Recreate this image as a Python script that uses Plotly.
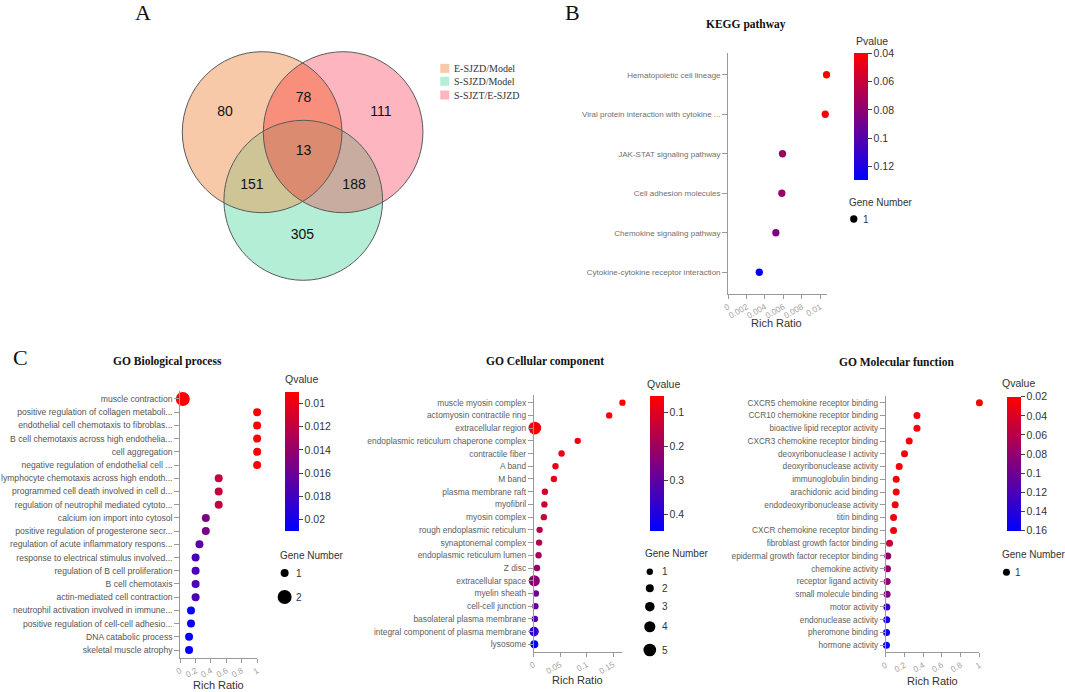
import math
import plotly.graph_objects as go

W, H = 1065, 692
SANS = "Liberation Sans, Arial, sans-serif"
SERIF = "Liberation Serif, Times New Roman, serif"

# ---------------- data ----------------
venn_sets = ["E-SJZD/Model", "S-SJZD/Model", "S-SJZT/E-SJZD"]
venn_region_counts = [80, 78, 111, 13, 151, 188, 305]

kegg_terms = ["Hematopoietic cell lineage", "Viral protein interaction with cytokine ...",
              "JAK-STAT signaling pathway", "Cell adhesion molecules",
              "Chemokine signaling pathway", "Cytokine-cytokine receptor interaction"]
kegg_ratio = [0.01068, 0.01054, 0.0059, 0.00583, 0.00518, 0.00338]
kegg_pvalue = [0.041, 0.043, 0.074, 0.076, 0.085, 0.127]
kegg_genes = [1, 1, 1, 1, 1, 1]

bp_terms = ["muscle contraction", "positive regulation of collagen metaboli...",
            "endothelial cell chemotaxis to fibroblas...", "B cell chemotaxis across high endothelia...",
            "cell aggregation", "negative regulation of endothelial cell ...",
            "lymphocyte chemotaxis across high endoth...", "programmed cell death involved in cell d...",
            "regulation of neutrophil mediated cytoto...", "calcium ion import into cytosol",
            "positive regulation of progesterone secr...", "regulation of acute inflammatory respons...",
            "response to electrical stimulus involved...", "regulation of B cell proliferation",
            "B cell chemotaxis", "actin-mediated cell contraction",
            "neutrophil activation involved in immune...", "positive regulation of cell-cell adhesio...",
            "DNA catabolic process", "skeletal muscle atrophy"]
bp_ratio = [0.034, 1, 1, 1, 1, 1, 0.5, 0.5, 0.5, 0.333, 0.333, 0.25, 0.2, 0.2, 0.2, 0.2,
            0.14, 0.14, 0.115, 0.115]
bp_qvalue = [0.0092, 0.0092, 0.0092, 0.0092, 0.0092, 0.0092, 0.0118, 0.0118, 0.0118, 0.0152,
             0.0152, 0.0168, 0.0175, 0.0175, 0.0175, 0.0175, 0.0205, 0.0205, 0.0207, 0.0207]
bp_genes = [2] + [1] * 19

cc_terms = ["muscle myosin complex", "actomyosin contractile ring", "extracellular region",
            "endoplasmic reticulum chaperone complex", "contractile fiber", "A band", "M band",
            "plasma membrane raft", "myofibril", "myosin complex", "rough endoplasmic reticulum",
            "synaptonemal complex", "endoplasmic reticulum lumen", "Z disc", "extracellular space",
            "myelin sheath", "cell-cell junction", "basolateral plasma membrane",
            "integral component of plasma membrane", "lysosome"]
cc_ratio = [0.1675, 0.1425, 0.002, 0.083, 0.0525, 0.041, 0.038, 0.021, 0.020, 0.019, 0.011,
            0.010, 0.009, 0.006, 0.001, 0.004, 0.003, 0.002, 0.0005, 0.001]
cc_qvalue = [0.055, 0.06, 0.06, 0.075, 0.08, 0.085, 0.09, 0.12, 0.125, 0.13, 0.16, 0.17,
             0.185, 0.215, 0.235, 0.27, 0.29, 0.32, 0.37, 0.44]
cc_genes = [1, 1, 5, 1, 1, 1, 1, 1, 1, 1, 1, 1, 1, 1, 4, 1, 1, 1, 3, 2]

mf_terms = ["CXCR5 chemokine receptor binding", "CCR10 chemokine receptor binding",
            "bioactive lipid receptor activity", "CXCR3 chemokine receptor binding",
            "deoxyribonuclease I activity", "deoxyribonuclease activity", "immunoglobulin binding",
            "arachidonic acid binding", "endodeoxyribonuclease activity", "titin binding",
            "CXCR chemokine receptor binding", "fibroblast growth factor binding",
            "epidermal growth factor receptor binding", "chemokine activity",
            "receptor ligand activity", "small molecule binding", "motor activity",
            "endonuclease activity", "pheromone binding", "hormone activity"]
mf_ratio = [1, 0.333, 0.333, 0.25, 0.2, 0.143, 0.111, 0.111, 0.1, 0.083, 0.083, 0.04, 0.021,
            0.018, 0.015, 0.014, 0.011, 0.01, 0.008, 0.007]
mf_qvalue = [0.02, 0.022, 0.022, 0.023, 0.024, 0.025, 0.026, 0.026, 0.027, 0.028, 0.029, 0.051,
             0.077, 0.079, 0.081, 0.088, 0.128, 0.147, 0.154, 0.158]
mf_genes = [1] * 20

kegg_xticks = [0, 0.002, 0.004, 0.006, 0.008, 0.01]
bp_xticks = [0, 0.2, 0.4, 0.6, 0.8, 1]
cc_xticks = [0, 0.05, 0.1, 0.15]
mf_xticks = [0, 0.2, 0.4, 0.6, 0.8, 1]
kegg_cticks = [0.04, 0.06, 0.08, 0.1, 0.12]
bp_cticks = [0.01, 0.012, 0.014, 0.016, 0.018, 0.02]
cc_cticks = [0.1, 0.2, 0.3, 0.4]
mf_cticks = [0.02, 0.04, 0.06, 0.08, 0.1, 0.12, 0.14, 0.16]


def fmt(v):
    s = ("%.4f" % v).rstrip("0").rstrip(".")
    return s


fig = go.Figure()

RB = [[0, "rgb(0,0,255)"], [1, "rgb(255,0,0)"]]

panels = [
    dict(terms=kegg_terms, ratio=kegg_ratio, col=kegg_pvalue, genes=kegg_genes,
         x=(728.3, 827.7), y=(53, 294), xmax=0.0107, xt=kegg_xticks,
         cmin=0.04, cmax=0.1294, ct=kegg_cticks, cb=(855, 53, 127),
         size=lambda g: 7.3, tf=8.0, tc="#707070", pad=0.55),
    dict(terms=bp_terms, ratio=bp_ratio, col=bp_qvalue, genes=bp_genes,
         x=(175.7, 253.3), y=(391.3, 657.7), xmax=1.0, xt=bp_xticks,
         cmin=0.009, cmax=0.02094, ct=bp_cticks, cb=(281.7, 391.7, 139.3),
         size=lambda g: 2 + 6 * g, tf=8.6, tc="#555", pad=0.58),
    dict(terms=cc_terms, ratio=cc_ratio, col=cc_qvalue, genes=cc_genes,
         x=(532.3, 621.7), y=(395.3, 651.7), xmax=0.1675, xt=cc_xticks,
         cmin=0.0505, cmax=0.4495, ct=cc_cticks, cb=(649.3, 396, 134.7),
         size=lambda g: 4.8 + 1.58 * g, tf=8.4, tc="#5e5e5e", pad=0.58),
    dict(terms=mf_terms, ratio=mf_ratio, col=mf_qvalue, genes=mf_genes,
         x=(887.3, 981.7), y=(395.7, 652.3), xmax=1.0, xt=mf_xticks,
         cmin=0.02, cmax=0.16, ct=mf_cticks, cb=(1009.3, 396.7, 134.3),
         size=lambda g: 7.0, tf=8.2, tc="#5e5e5e", pad=0.55),
]

AX = "#9a9a9a"
for i, p in enumerate(panels, start=1):
    sfx = "" if i == 1 else str(i)
    fig.add_trace(go.Scatter(
        x=p["ratio"], y=p["terms"], mode="markers",
        xaxis="x" + sfx, yaxis="y" + sfx, cliponaxis=False, showlegend=False,
        hoverinfo="skip",
        marker=dict(size=[p["size"](g) for g in p["genes"]], opacity=1,
                    color=[-v for v in p["col"]], colorscale=RB,
                    cmin=-p["cmax"], cmax=-p["cmin"], line=dict(width=0),
                    colorbar=dict(x=p["cb"][0] / W, xanchor="left", y=1 - p["cb"][1] / H,
                                  yanchor="top", len=p["cb"][2], lenmode="pixels",
                                  thickness=14, thicknessmode="pixels", xpad=0, ypad=0,
                                  outlinewidth=0, ticks="outside", ticklen=4, tickwidth=1,
                                  tickcolor="#444",
                                  tickfont=dict(size=10.5, color="#333", family=SANS),
                                  tickvals=[-t for t in p["ct"]],
                                  ticktext=[fmt(t) for t in p["ct"]],
                                  title=dict(text="")))))
    n = len(p["terms"])
    fig.layout["xaxis" + sfx] = dict(
        domain=[p["x"][0] / W, p["x"][1] / W], anchor="y" + sfx, range=[0, p["xmax"]],
        tickvals=p["xt"], ticktext=[fmt(t) for t in p["xt"]], tickangle=-30,
        ticks="outside", ticklen=4, tickcolor=AX, showline=True, linecolor=AX, linewidth=1,
        tickfont=dict(size=8.3, color="#a0a0a0", family=SANS), showgrid=False,
        zeroline=False, fixedrange=True)
    fig.layout["yaxis" + sfx] = dict(
        domain=[1 - p["y"][1] / H, 1 - p["y"][0] / H], anchor="x" + sfx, type="category",
        categoryorder="array", categoryarray=p["terms"],
        range=[n - 1 + p["pad"], -p["pad"]], showline=True, linecolor=AX, linewidth=1,
        ticks="outside", ticklen=5, tickcolor=AX,
        tickfont=dict(size=p["tf"], color=p["tc"], family=SANS), showgrid=False,
        zeroline=False, fixedrange=True)

# ---------------- overlay pixel axis ----------------
fig.layout["xaxis5"] = dict(domain=[0, 1], range=[0, W], visible=False, anchor="y5",
                            fixedrange=True)
fig.layout["yaxis5"] = dict(domain=[0, 1], range=[H, 0], visible=False, anchor="x5",
                            fixedrange=True)

# Venn geometry
circles = [(258.3, 132.2, 80.5), (299.8, 200.3, 80.0), (340.0, 132.2, 80.5)]  # E, S, S-SJZT
single_cols = ["rgb(248,201,168)", "rgb(180,238,215)", "rgb(253,182,192)"]


def circ_pts(cx, cy, r, n=720):
    return [(cx + r * math.cos(2 * math.pi * k / n), cy + r * math.sin(2 * math.pi * k / n))
            for k in range(n)]


def inter_path(cs):
    pts = []
    for i, (cx, cy, r) in enumerate(cs):
        for q in circ_pts(cx, cy, r):
            if all(math.hypot(q[0] - c[0], q[1] - c[1]) <= c[2] + 1e-6
                   for j, c in enumerate(cs) if j != i):
                pts.append(q)
    mx = sum(q[0] for q in pts) / len(pts)
    my = sum(q[1] for q in pts) / len(pts)
    pts.sort(key=lambda q: math.atan2(q[1] - my, q[0] - mx))
    return "M " + " L ".join("%.2f,%.2f" % q for q in pts) + " Z"


shapes = []
for (cx, cy, r), col in zip([circles[0], circles[2], circles[1]],
                            [single_cols[0], single_cols[2], single_cols[1]]):
    shapes.append(dict(type="circle", xref="x5", yref="y5", x0=cx - r, x1=cx + r,
                       y0=cy - r, y1=cy + r, fillcolor=col, line=dict(width=0), layer="below"))
pairs = [((0, 2), "rgb(248,143,124)"), ((0, 1), "rgb(206,196,150)"), ((1, 2), "rgb(201,172,160)")]
for (a, b), col in pairs:
    shapes.append(dict(type="path", xref="x5", yref="y5", path=inter_path([circles[a], circles[b]]),
                       fillcolor=col, line=dict(width=0), layer="below"))
shapes.append(dict(type="path", xref="x5", yref="y5", path=inter_path(circles),
                   fillcolor="rgb(219,140,112)", line=dict(width=0), layer="below"))
for cx, cy, r in circles:
    shapes.append(dict(type="circle", xref="x5", yref="y5", x0=cx - r, x1=cx + r,
                       y0=cy - r, y1=cy + r, fillcolor="rgba(0,0,0,0)",
                       line=dict(color="rgb(90,90,90)", width=1), layer="below"))
fig.update_layout(shapes=shapes)

venn_lx = [221, 300, 378, 300, 248, 351, 299]
venn_ly = [112, 98, 112, 151, 185, 185, 235]
fig.add_trace(go.Scatter(x=venn_lx, y=venn_ly, mode="text", text=[str(v) for v in venn_region_counts],
                         textfont=dict(size=14, color="#111", family=SANS), xaxis="x5", yaxis="y5",
                         showlegend=False, hoverinfo="skip", cliponaxis=False))
fig.add_trace(go.Scatter(x=[442.5] * 3, y=[68.3, 81.3, 95], mode="markers",
                         marker=dict(symbol="square", size=9, color=single_cols, line=dict(width=0),
                                     opacity=1),
                         xaxis="x5", yaxis="y5", showlegend=False, hoverinfo="skip",
                         cliponaxis=False))

# Gene number legend dots
leg_x, leg_y, leg_s = [], [], []
leg_x += [855]; leg_y += [219]; leg_s += [7.3]
leg_x += [281, 281]; leg_y += [573, 597]; leg_s += [8, 14]
for g, yy in zip([1, 2, 3, 4, 5], [571.7, 588.3, 606.7, 626.7, 650]):
    leg_x.append(649.3); leg_y.append(yy); leg_s.append(4.8 + 1.58 * g)
leg_x += [1009]; leg_y += [572.3]; leg_s += [7]
fig.add_trace(go.Scatter(x=leg_x, y=leg_y, mode="markers",
                         marker=dict(size=leg_s, color="black", line=dict(width=0), opacity=1),
                         xaxis="x5", yaxis="y5", showlegend=False, hoverinfo="skip",
                         cliponaxis=False))

anns = []


def ann(text, x, y, size, color="#222", family=SANS, xa="center", ya="middle"):
    anns.append(dict(text=text, x=x, y=y, xref="x5", yref="y5", showarrow=False,
                     font=dict(size=size, color=color, family=family), xanchor=xa, yanchor=ya))


for name, yy in zip(venn_sets, [68.3, 81.3, 95]):
    ann(name, 450, yy, 10, "#333", SERIF, "left")

ann("A", 138.3, 12.7, 22, "#111", SERIF)
ann("B", 571, 12.5, 22, "#111", SERIF)
ann("C", 15, 357, 22, "#111", SERIF)

ann("<b>KEGG pathway</b>", 746, 24.5, 11.5, "#111", SERIF)
ann("<b>GO Biological process</b>", 163, 361, 11.5, "#111", SERIF)
ann("<b>GO Cellular component</b>", 544, 361, 11.5, "#111", SERIF)
ann("<b>GO Molecular function</b>", 898, 361.7, 11.5, "#111", SERIF)

for x, y in [(777, 323), (214, 685), (576.7, 680), (934, 680.7)]:
    ann("Rich Ratio", x, y, 11, "#333")

ann("Pvalue", 855, 41, 10.5, "#333", SANS, "left")
ann("Qvalue", 279.3, 379, 10.5, "#333", SANS, "left")
ann("Qvalue", 644, 384, 10.5, "#333", SANS, "left")
ann("Qvalue", 1002.7, 383, 10.5, "#333", SANS, "left")

ann("Gene Number", 848, 202, 10, "#333", SANS, "left")
ann("Gene Number", 274, 555, 10, "#333", SANS, "left")
ann("Gene Number", 642.7, 553.3, 10, "#333", SANS, "left")
ann("Gene Number", 1002.7, 554.3, 10, "#333", SANS, "left")

ann("1", 862, 219, 10, "#333", SANS, "left")
ann("1", 290, 573, 10, "#333", SANS, "left")
ann("2", 290, 597, 10, "#333", SANS, "left")
for g, yy in zip([1, 2, 3, 4, 5], [571.7, 588.3, 606.7, 626.7, 650]):
    ann(str(g), 660, yy, 10, "#333", SANS, "left")
ann("1", 1016, 572.3, 10, "#333", SANS, "left")

fig.update_layout(annotations=anns, width=W, height=H,
                  margin=dict(l=0, r=0, t=0, b=0), paper_bgcolor="white",
                  plot_bgcolor="rgba(0,0,0,0)", font=dict(family=SANS), showlegend=False)

fig.write_html("out.html", config={"displayModeBar": False},
               post_script="document.body.style.margin='0';document.body.style.overflow='hidden';")
